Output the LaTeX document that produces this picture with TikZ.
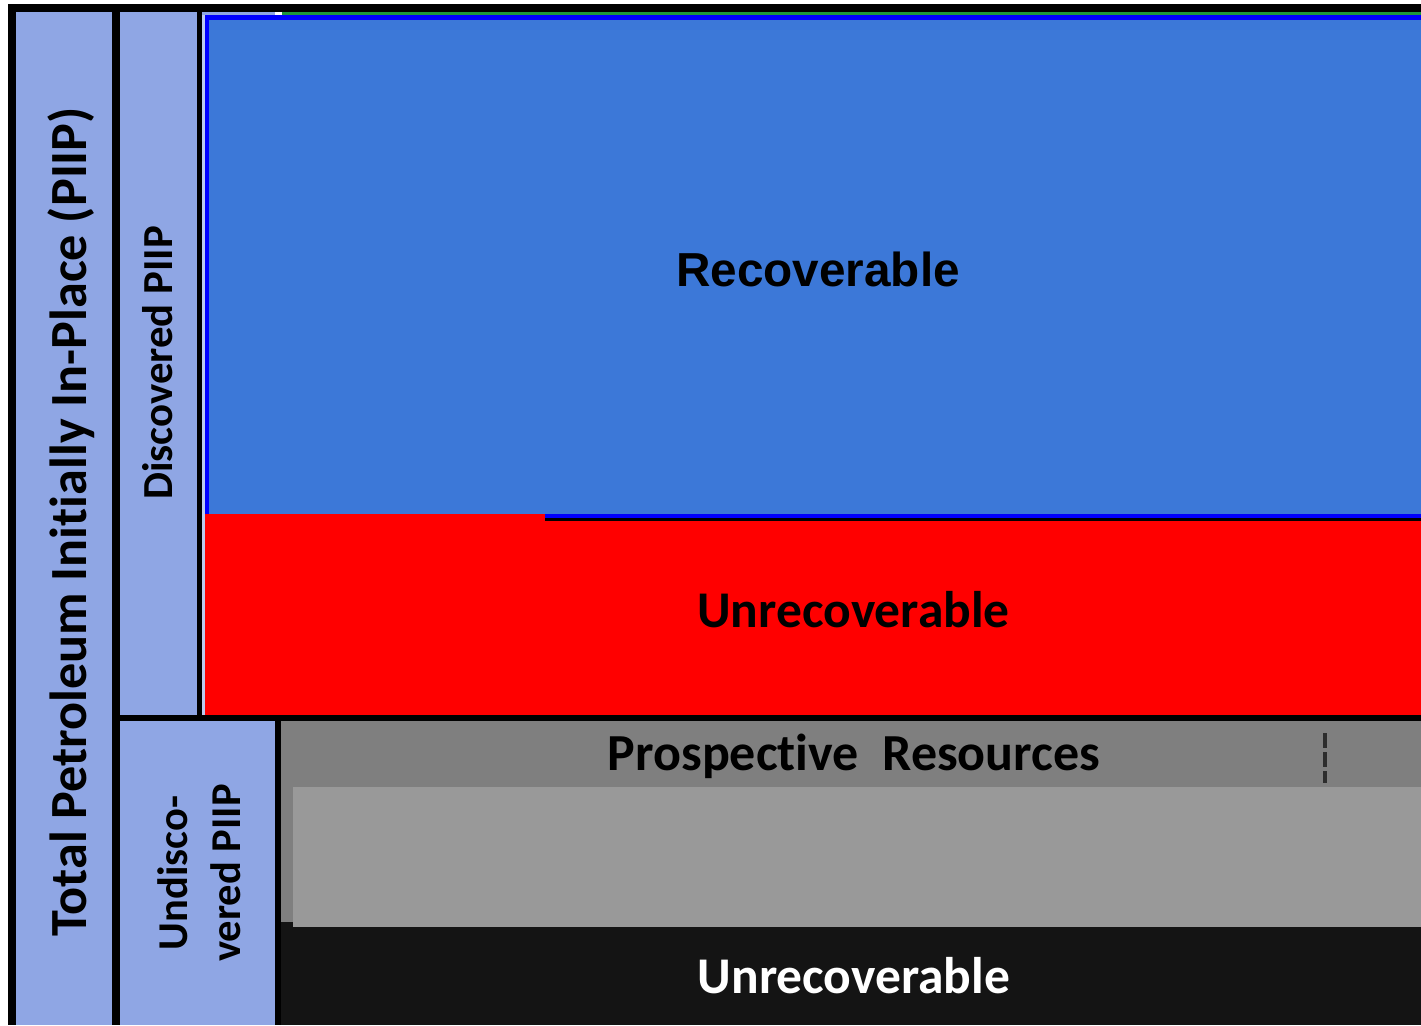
\documentclass[tikz,border=0pt]{standalone}
\usepackage{fontspec}
\setmainfont{Carlito}[Ligatures=NoCommon]
\newfontfamily\arialf{Liberation Sans}
\definecolor{lav}{RGB}{143,166,228}
\definecolor{rblue}{RGB}{60,120,216}
\definecolor{pblue}{RGB}{0,0,255}
\definecolor{dgray}{RGB}{127,127,127}
\definecolor{lgray}{RGB}{153,153,153}
\definecolor{nblack}{RGB}{20,20,20}
\definecolor{dashc}{RGB}{45,45,45}
\definecolor{gline}{RGB}{30,150,60}
\begin{document}
\begin{tikzpicture}[x=1pt,y=-1pt,
  lbl/.style={inner sep=0pt, outer sep=0pt, anchor=base},
  cal/.style={font=\fontsize{#1}{#1}\selectfont\bfseries},
  ari/.style={font=\arialf\fontsize{#1}{#1}\selectfont\bfseries}]
\useasboundingbox (0,0) rectangle (1421,1025);
\fill[white] (0,0) rectangle (1421,1025);
% lavender panels
\fill[lav] (16,12) rectangle (112,1025);
\fill[lav] (120,12) rectangle (197,715);
\fill[lav] (120,721) rectangle (275,1025);
\fill[lav!60!white] (202,12) rectangle (205,715);
\fill[lav] (202,12) rectangle (275,15);
% discovered: recoverable (blue)
\fill[rblue] (205,15) rectangle (1421,518);
\fill[pblue] (205,15) rectangle (1421,20);
\fill[pblue] (205,15) rectangle (209,514);
\fill[pblue] (545,514) rectangle (1421,518);
\fill[black] (545,518) rectangle (1421,521);
\fill[gline] (282,12.5) rectangle (1421,15);
% discovered: unrecoverable (red)
\fill[red] (205,514) rectangle (545,715);
\fill[red] (545,521) rectangle (1421,715);
% undiscovered
\fill[dgray] (281,721) rectangle (1421,922);
\fill[nblack] (281,922) rectangle (1421,1025);
\fill[lgray] (293,787) rectangle (1421,927);
% black frame lines
\fill[black] (8,4) rectangle (1421,12);
\fill[black] (8,4) rectangle (16,1025);
\fill[black] (112,12) rectangle (120,1025);
\fill[black] (197,12) rectangle (202,715);
\fill[black] (112,715) rectangle (1421,721);
\fill[black] (275,721) rectangle (281,1025);
% dashed marker
\coordinate (dtop) at (1325,733);
\coordinate (dbot) at (1325,783);
\draw[dashc, line width=4pt, dash pattern=on 15pt off 4pt] (dtop) -- (dbot);
% texts
\node[lbl, ari=47.7] (rec) at (818,286) {Recoverable};
\node[lbl, cal=51.5] (unrecA) at (853.5,627) {Unrecoverable};
\node[lbl, cal=52] (pros) at (854,770) {Prospective\ \ Resources};
\node[lbl, cal=51.5, text=white] (unrecB) at (854,993) {Unrecoverable};
\node[lbl, cal=52.2, rotate=90] (total) at (86,522) {Total Petroleum Initially In-Place (PIIP)};
\node[lbl, cal=42.8, rotate=90] (disc) at (172,363) {Discovered PIIP};
\node[inner sep=0pt, rotate=90, align=center, font=\fontsize{42.5}{53}\selectfont\bfseries] (undisc) at (199,873) {Undisco-\\vered PIIP};
\end{tikzpicture}
\end{document}
